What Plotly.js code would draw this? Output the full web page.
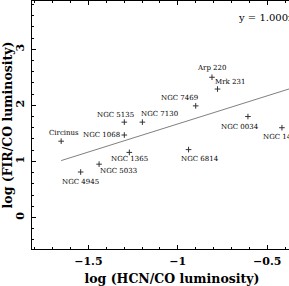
<!DOCTYPE html>
<html>
<head>
<meta charset="utf-8">
<script src="https://cdn.plot.ly/plotly-3.0.1.min.js"></script>
<style>
html,body{margin:0;padding:0;overflow:hidden;background:#fff;width:289px;height:286px;}
#chart{width:320px;height:286px;}
</style>
</head>
<body>
<div id="chart"></div>
<script>
// Data
var galaxyNames = ["Circinus","NGC 1068","NGC 5135","NGC 7130","NGC 7469","Arp 220","Mrk 231","NGC 0034","NGC 1433","NGC 1365","NGC 5033","NGC 4945","NGC 6814"];
var logHcnCo = [-1.652,-1.299,-1.299,-1.198,-0.900,-0.809,-0.778,-0.608,-0.418,-1.271,-1.440,-1.543,-0.940];
var logFirCo = [1.36,1.47,1.70,1.70,1.99,2.50,2.29,1.80,1.60,1.16,0.95,0.81,1.21];
var fitX = [-1.652,-0.26];
var fitY = [1.014,2.41];
var fitLabel = "y = 1.000x + 2.67";

// label placement (pixel offsets from each point, styling only)
var labelDx = [3,-23,-9,17,-16,0,12,-8,0,0,19,0,11];
var labelDy = [8,0,7,8,8,9,7,-10,-9,-7,-7,-10,-9];

var traces = [
  {x: fitX, y: fitY, mode: "lines", line: {color: "#808080", width: 1}, hoverinfo: "skip", showlegend: false},
  {x: logHcnCo, y: logFirCo, mode: "markers", marker: {symbol: "cross-thin", size: 4, line: {color: "#333", width: 1}}, showlegend: false}
];

var annotations = galaxyNames.map(function(n, i){
  return {x: logHcnCo[i], y: logFirCo[i], xref: "x", yref: "y", text: n, showarrow: false,
    xshift: labelDx[i], yshift: labelDy[i],
    font: {family: "DejaVu Serif", size: 7, color: "#000"}};
});
annotations.push({xref: "paper", yref: "paper", x: 0.727, y: 0.935, xanchor: "left", yanchor: "middle",
  text: fitLabel, showarrow: false, font: {family: "DejaVu Serif", size: 10, color: "#000"}});

var axisFont = {family: "DejaVu Serif", size: 12.5, color: "#000"};
var layout = {
  width: 320, height: 286,
  margin: {l: 32, r: 8, t: 1, b: 37},
  paper_bgcolor: "#fff", plot_bgcolor: "#fff",
  showlegend: false,
  xaxis: {range: [-1.815, -0.25], dtick: 0.5, tick0: 0, ticks: "inside", ticklen: 4, tickcolor: "#000",
    showline: true, linecolor: "#000", linewidth: 1, mirror: "ticks", showgrid: false, zeroline: false,
    minor: {dtick: 0.1, ticks: "inside", ticklen: 2, tickcolor: "#000"},
    tickfont: {family: "DejaVu Serif", size: 11, color: "#000", weight: "bold"}, ticklabelstandoff: 2,
    title: {text: "<b>log (HCN/CO luminosity)</b>", font: axisFont, standoff: 7}},
  yaxis: {range: [-0.5625, 3.86], dtick: 1, tick0: 0, ticks: "inside", ticklen: 4, tickcolor: "#000",
    showline: true, linecolor: "#000", linewidth: 1, mirror: "ticks", showgrid: false, zeroline: false,
    minor: {dtick: 0.2, ticks: "inside", ticklen: 2, tickcolor: "#000"},
    tickangle: -90,
    tickfont: {family: "DejaVu Serif", size: 11, color: "#000", weight: "bold"}, ticklabelstandoff: 3,
    title: {text: "<b>log (FIR/CO luminosity)</b>", font: axisFont, standoff: 2}},
  annotations: annotations
};
Plotly.newPlot("chart", traces, layout, {staticPlot: true, displayModeBar: false});
</script>
</body>
</html>
